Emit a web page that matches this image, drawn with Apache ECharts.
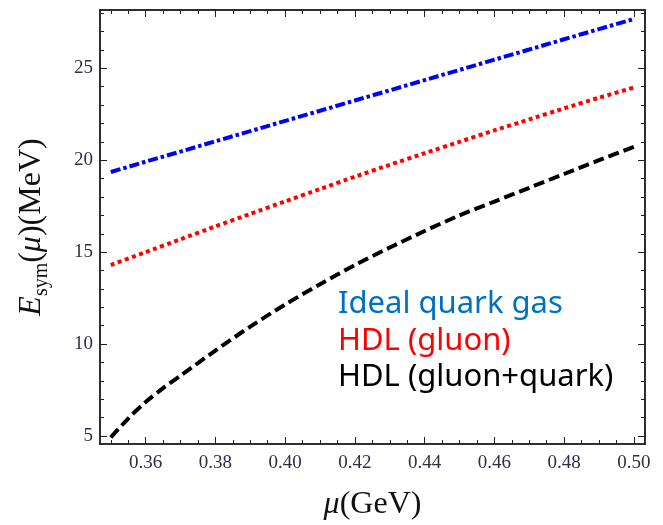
<!DOCTYPE html>
<html>
<head>
<meta charset="utf-8">
<script src="https://cdn.jsdelivr.net/npm/echarts@6/dist/echarts.min.js"></script>
<style>
  html, body { margin: 0; padding: 0; background: #fff; }
  #chart { width: 663px; height: 525px; }
</style>
</head>
<body>
<div id="chart"></div>
<script>
// chemical potential mu (GeV)
var muValues = [0.35, 0.36, 0.37, 0.38, 0.39, 0.40, 0.41, 0.42, 0.43, 0.44, 0.45, 0.46, 0.47, 0.48, 0.49, 0.50]
// E_sym (MeV)
var idealGas = [19.36, 19.92, 20.47, 21.03, 21.58, 22.14, 22.69, 23.25, 23.80, 24.36, 24.91, 25.47, 26.02, 26.58, 27.13, 27.68]
var hdlGluon = [14.30, 15.00, 15.70, 16.40, 17.08, 17.76, 18.43, 19.10, 19.75, 20.38, 21.00, 21.62, 22.22, 22.82, 23.40, 23.95]
// the gluon+quark curve bends more near the start, so it gets a couple of extra points there
var muBlack = [0.35, 0.355, 0.36, 0.365, 0.37, 0.38, 0.39, 0.40, 0.41, 0.42, 0.43, 0.44, 0.45, 0.46, 0.47, 0.48, 0.49, 0.50]
var hdlGluonQuark = [4.93, 5.95, 6.85, 7.60, 8.28, 9.65, 10.95, 12.15, 13.25, 14.30, 15.25, 16.15, 17.00, 17.75, 18.50, 19.25, 20.00, 20.72]

var seriesNames = ['Ideal quark gas', 'HDL (gluon)', 'HDL (gluon+quark)']

// tick labels and tick marks
var xTickLabels = [0.36, 0.38, 0.40, 0.42, 0.44, 0.46, 0.48, 0.50]
var yTickLabels = [5, 10, 15, 20, 25]
var xMinorTicks = [0.35, 0.355, 0.36, 0.365, 0.37, 0.375, 0.38, 0.385, 0.39, 0.395, 0.40, 0.405, 0.41, 0.415,
  0.42, 0.425, 0.43, 0.435, 0.44, 0.445, 0.45, 0.455, 0.46, 0.465, 0.47, 0.475, 0.48, 0.485, 0.49, 0.495, 0.50]
var yMinorTicks = [5, 6, 7, 8, 9, 10, 11, 12, 13, 14, 15, 16, 17, 18, 19, 20, 21, 22, 23, 24, 25, 26, 27, 28]

var xMin = 0.3469
var xMax = 0.5032
var yMin = 4.565
var yMax = 28.17

var frameColor = '#222'
var serif = 'Liberation Serif'

function pairs(xs, ys) {
  return xs.map(function(x, i) { return [x, ys[i]] })
}

function xAxisDef(grid, pos, major, withLabels) {
  return {
    type: 'value',
    gridIndex: grid,
    position: pos,
    min: xMin,
    max: xMax,
    splitLine: { show: false },
    axisLine: { show: true, onZero: false, lineStyle: { color: frameColor, width: 1.5 }},
    axisTick: {
      show: true,
      inside: true,
      length: major ? 7 : 4,
      customValues: major ? xTickLabels : xMinorTicks,
      lineStyle: { color: frameColor, width: 1 }
    },
    axisLabel: {
      show: withLabels,
      customValues: xTickLabels,
      formatter: function(v) { return v.toFixed(2) },
      color: '#2e2e48',
      fontFamily: serif,
      fontSize: 19,
      margin: 10
    }
  }
}

function yAxisDef(grid, pos, major, withLabels) {
  return {
    type: 'value',
    gridIndex: grid,
    position: pos,
    min: yMin,
    max: yMax,
    splitLine: { show: false },
    axisLine: { show: true, onZero: false, lineStyle: { color: frameColor, width: 1.5 }},
    axisTick: {
      show: true,
      inside: true,
      length: major ? 7 : 4,
      customValues: major ? yTickLabels : yMinorTicks,
      lineStyle: { color: frameColor, width: 1 }
    },
    axisLabel: {
      show: withLabels,
      customValues: yTickLabels,
      color: '#2e2e48',
      fontFamily: serif,
      fontSize: 19,
      margin: 7
    }
  }
}

var chart = echarts.init(document.getElementById('chart'), null, { renderer: 'canvas' })

var gridRect = { left: 100, right: 18, top: 10, bottom: 81, containLabel: false, outerBoundsMode: 'none' }

var xMain = xAxisDef(0, 'bottom', true, true)
xMain.name = '{i|μ}{n|(GeV)}'
xMain.nameLocation = 'middle'
xMain.nameGap = 45
xMain.nameTextStyle = {
  fontFamily: serif,
  fontSize: 32,
  color: '#111',
  rich: {
    i: { fontFamily: serif, fontSize: 32, fontStyle: 'italic', color: '#111' },
    n: { fontFamily: serif, fontSize: 32, color: '#111' }
  }
}

var yMain = yAxisDef(0, 'left', true, true)
yMain.name = '{i|E}{s|sym}{n|(}{i|μ}{n|)(MeV)}'
yMain.nameLocation = 'middle'
yMain.nameRotate = 90
yMain.nameGap = 48
yMain.nameTextStyle = {
  fontFamily: serif,
  fontSize: 32,
  color: '#111',
  rich: {
    i: { fontFamily: serif, fontSize: 32, fontStyle: 'italic', color: '#111' },
    n: { fontFamily: serif, fontSize: 32, color: '#111' },
    s: { fontFamily: serif, fontSize: 20, color: '#111', verticalAlign: 'bottom', padding: [20, 0, 0, 0] }
  }
}

var legendFont = '31px "Noto Sans"'

var option = {
  animation: false,
  backgroundColor: '#fff',
  grid: [
    Object.assign({}, gridRect),
    Object.assign({}, gridRect)
  ],
  xAxis: [
    xMain,
    xAxisDef(0, 'top', true, false),
    xAxisDef(1, 'bottom', false, false),
    xAxisDef(1, 'top', false, false)
  ],
  yAxis: [
    yMain,
    yAxisDef(0, 'right', true, false),
    yAxisDef(1, 'left', false, false),
    yAxisDef(1, 'right', false, false)
  ],
  graphic: [
    { type: 'text', left: 338, top: 289, style: { text: seriesNames[0], fill: '#0070c0', font: legendFont }},
    { type: 'text', left: 338, top: 326, style: { text: seriesNames[1], fill: '#ff0000', font: legendFont }},
    { type: 'text', left: 338, top: 362, style: { text: seriesNames[2], fill: '#000000', font: legendFont }}
  ],
  series: [
    {
      name: seriesNames[2],
      type: 'line',
      xAxisIndex: 0,
      yAxisIndex: 0,
      showSymbol: false,
      smooth: 0.3,
      data: pairs(muBlack, hdlGluonQuark),
      lineStyle: { color: '#000', width: 4, type: [11, 5], cap: 'butt' }
    },
    {
      name: seriesNames[1],
      type: 'line',
      xAxisIndex: 0,
      yAxisIndex: 0,
      showSymbol: false,
      smooth: 0.2,
      data: pairs(muValues, hdlGluon),
      lineStyle: { color: '#ff0000', width: 4, type: [4, 3.5], cap: 'butt' }
    },
    {
      name: seriesNames[0],
      type: 'line',
      xAxisIndex: 0,
      yAxisIndex: 0,
      showSymbol: false,
      data: pairs(muValues, idealGas),
      lineStyle: { color: '#0000ff', width: 4, type: [10, 3, 3.5, 3], cap: 'butt' }
    }
  ]
}

chart.setOption(option)
</script>
</body>
</html>
